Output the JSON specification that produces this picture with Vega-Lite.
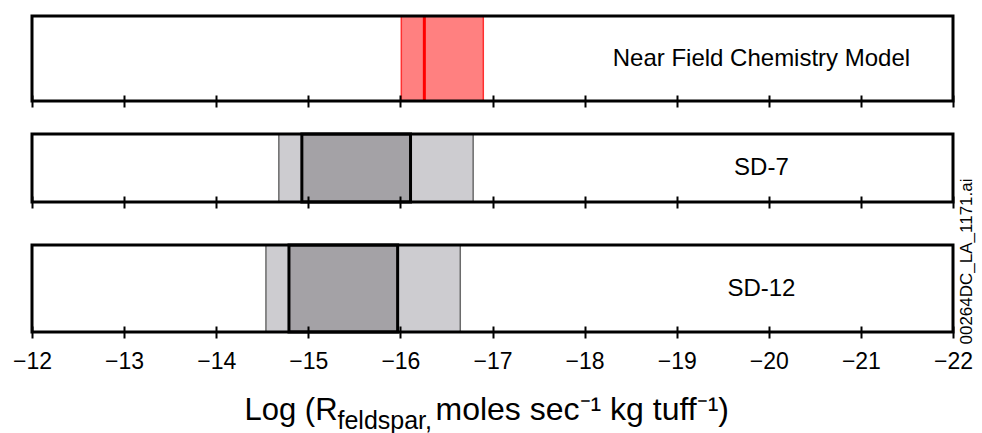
{
  "$schema": "https://vega.github.io/schema/vega-lite/v6.json",
  "background": "white",
  "padding": {"left": 12, "top": 14, "right": 8, "bottom": 0},
  "bounds": "flush",
  "spacing": 5,
  "config": {
    "view": {"stroke": null},
    "font": "Liberation Sans",
    "axis": {"labelFont": "Liberation Sans", "titleFont": "Liberation Sans", "labelColor": "black", "titleColor": "black", "titleFontWeight": "normal", "grid": false}
  },
  "vconcat": [
    {
      "width": 921, "height": 85,
      "encoding": {
        "x": {"field": "x1", "type": "quantitative", "scale": {"domain": [-22, -12], "reverse": true, "nice": false, "zero": false},
          "axis": {"values": [-12,-13,-14,-15,-16,-17,-18,-19,-20,-21,-22], "domain": false, "ticks": true, "tickSize": 12, "tickWidth": 2, "tickColor": "black", "offset": -6, "labels": false, "title": null, "zindex": 1}}
      },
      "layer": [
        {
          "data": {"values": [{"x1": -16.01, "x2": -16.9}]},
          "mark": {"type": "rect", "fill": "#ff8080", "stroke": "#ff3030", "strokeWidth": 1.5},
          "encoding": {"x2": {"field": "x2"}}
        },
        {
          "data": {"values": [{"x1": -16.26}]},
          "mark": {"type": "rule", "color": "#ff0000", "strokeWidth": 3},
          "encoding": {}
        },
        {
          "data": {"values": [{"label": "Near Field Chemistry Model", "x1": -19.92}]},
          "mark": {"type": "text", "fontSize": 24, "font": "Liberation Sans", "align": "center", "baseline": "middle", "color": "black"},
          "encoding": {"text": {"field": "label"}}
        },
        {
          "data": {"values": [{"x1": -12, "x2": -22}]},
          "mark": {"type": "rect", "filled": false, "stroke": "black", "strokeWidth": 3},
          "encoding": {"x2": {"field": "x2"}}
        }
      ]
    },
    {
      "width": 921, "height": 23,
      "data": {"values": [{"x1": -12}]},
      "mark": {"type": "point", "opacity": 0},
      "encoding": {"x": {"field": "x1", "type": "quantitative", "axis": null}}
    },
    {
      "width": 921, "height": 68,
      "encoding": {
        "x": {"field": "x1", "type": "quantitative", "scale": {"domain": [-22, -12], "reverse": true, "nice": false, "zero": false},
          "axis": {"values": [-12,-13,-14,-15,-16,-17,-18,-19,-20,-21,-22], "domain": false, "ticks": true, "tickSize": 12, "tickWidth": 2, "tickColor": "black", "offset": -6, "labels": false, "title": null, "zindex": 1}}
      },
      "layer": [
        {
          "data": {"values": [{"x1": -14.68, "x2": -16.79}]},
          "mark": {"type": "rect", "fill": "#cdccd0", "stroke": "#6b6b6b", "strokeWidth": 1.5},
          "encoding": {"x2": {"field": "x2"}}
        },
        {
          "data": {"values": [{"x1": -14.93, "x2": -16.11}]},
          "mark": {"type": "rect", "fill": "#a4a2a6", "stroke": "black", "strokeWidth": 3},
          "encoding": {"x2": {"field": "x2"}}
        },
        {
          "data": {"values": [{"label": "SD-7", "x1": -19.92}]},
          "mark": {"type": "text", "fontSize": 24, "font": "Liberation Sans", "align": "center", "baseline": "middle", "color": "black"},
          "encoding": {"text": {"field": "label"}}
        },
        {
          "data": {"values": [{"x1": -12, "x2": -22}]},
          "mark": {"type": "rect", "filled": false, "stroke": "black", "strokeWidth": 3},
          "encoding": {"x2": {"field": "x2"}}
        }
      ]
    },
    {
      "width": 921, "height": 33,
      "data": {"values": [{"x1": -12}]},
      "mark": {"type": "point", "opacity": 0},
      "encoding": {"x": {"field": "x1", "type": "quantitative", "axis": null}}
    },
    {
      "width": 921, "height": 87,
      "encoding": {
        "x": {"field": "x1", "type": "quantitative", "scale": {"domain": [-22, -12], "reverse": true, "nice": false, "zero": false},
          "axis": {"orient": "bottom", "values": [-12,-13,-14,-15,-16,-17,-18,-19,-20,-21,-22], "format": "d", "domain": false, "ticks": true, "tickSize": 12, "tickWidth": 2, "tickColor": "black", "offset": -6, "labels": true, "labelFontSize": 23, "labelPadding": 12, "labelFlush": false, "labelOverlap": false, "zindex": 1,
            "title": "Log (R", "titleFontSize": 31, "titleX": 212, "titleY": 93, "titleAlign": "left", "titleBaseline": "alphabetic"}}
      },
      "layer": [
        {
          "data": {"values": [{"x1": -14.54, "x2": -16.65}]},
          "mark": {"type": "rect", "fill": "#cdccd0", "stroke": "#6b6b6b", "strokeWidth": 1.5},
          "encoding": {"x2": {"field": "x2"}}
        },
        {
          "data": {"values": [{"x1": -14.79, "x2": -15.97}]},
          "mark": {"type": "rect", "fill": "#a4a2a6", "stroke": "black", "strokeWidth": 3},
          "encoding": {"x2": {"field": "x2"}}
        },
        {
          "data": {"values": [{"label": "SD-12", "x1": -19.92}]},
          "mark": {"type": "text", "fontSize": 24, "font": "Liberation Sans", "align": "center", "baseline": "middle", "color": "black"},
          "encoding": {
            "y": {"datum": 0.5, "type": "quantitative", "scale": {"domain": [0, 1]},
              "axis": {"orient": "right", "domain": false, "ticks": false, "labels": false, "grid": false, "title": "00264DC_LA_1171.ai", "titleFontSize": 17, "titleAngle": 270, "titleX": 18, "titleY": 16, "titleAlign": "center", "titleBaseline": "alphabetic"}},
            "text": {"field": "label"}
          }
        },
        {
          "data": {"values": [{"x1": -12, "x2": -22}]},
          "mark": {"type": "rect", "filled": false, "stroke": "black", "strokeWidth": 3},
          "encoding": {"x2": {"field": "x2"}}
        }
      ]
    },
    {
      "width": 921, "height": 1,
      "data": {"values": [{"x1": -12}]},
      "mark": {"type": "point", "opacity": 0},
      "encoding": {"x": {"field": "x1", "type": "quantitative", "scale": {"domain": [-22, -12], "reverse": true, "nice": false, "zero": false},
        "axis": {"orient": "bottom", "domain": false, "ticks": false, "labels": false, "title": "feldspar,", "titleFontSize": 25, "titleX": 305, "titleY": 90, "titleAlign": "left", "titleBaseline": "alphabetic"}}}
    },
    {
      "width": 921, "height": 1,
      "data": {"values": [{"x1": -12}]},
      "mark": {"type": "point", "opacity": 0},
      "encoding": {"x": {"field": "x1", "type": "quantitative", "scale": {"domain": [-22, -12], "reverse": true, "nice": false, "zero": false},
        "axis": {"orient": "bottom", "domain": false, "ticks": false, "labels": false, "title": "moles sec⁻¹ kg tuff⁻¹)", "titleFontSize": 32, "titleX": 403, "titleY": 75, "titleAlign": "left", "titleBaseline": "alphabetic"}}}
    }
  ]
}
